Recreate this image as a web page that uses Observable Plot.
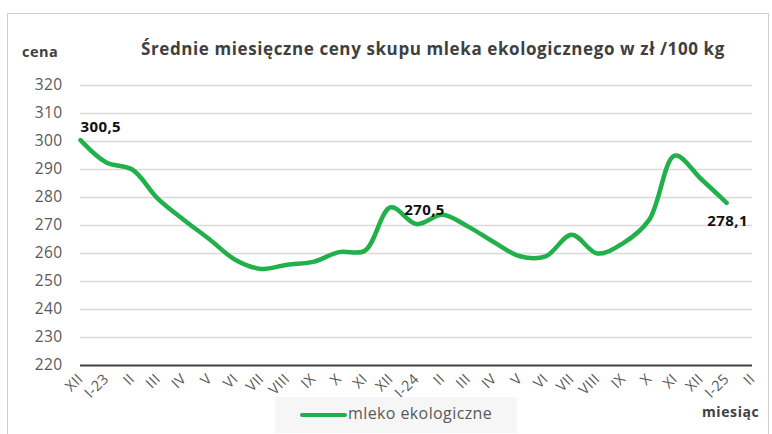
<!DOCTYPE html>
<html><head><meta charset="utf-8">
<script src="https://cdn.jsdelivr.net/npm/d3@7"></script>
<script src="https://cdn.jsdelivr.net/npm/@observablehq/plot@0.6"></script>
<style>
body{margin:0;background:#fff;}
#wrap{position:relative;width:772px;height:434px;font-family:"Open Sans",Lato,sans-serif;overflow:hidden;}
#frame{position:absolute;left:7px;top:13px;width:762px;height:440px;border:1px solid #cfcfcf;box-sizing:border-box;}
#chart{position:absolute;left:0;top:0;}
.t{position:absolute;white-space:nowrap;color:#404040;font-weight:bold;}
#title{left:141px;top:37px;font-size:17px;letter-spacing:0.6px;}
#ylab{left:22px;top:42px;font-size:14.5px;letter-spacing:0.5px;}
#xlab{left:702px;top:402px;font-size:14px;letter-spacing:0.6px;}
#legend{position:absolute;left:275px;top:397px;width:242px;height:36px;background:#f6f6f6;}
#legend .sw{position:absolute;left:25px;top:16px;width:47px;height:4px;background:#21b04b;border-radius:2px;}
#legend .lt{position:absolute;left:73px;top:5px;font-size:16px;color:#595959;letter-spacing:0.4px;}
</style></head>
<body>
<div id="wrap">
  <div id="frame"></div>
  <div id="chart"></div>
  <div class="t" id="title">Średnie miesięczne ceny skupu mleka ekologicznego w zł /100 kg</div>
  <div class="t" id="ylab">cena</div>
  <div class="t" id="xlab">miesiąc</div>
  <div id="legend"><div class="sw"></div><div class="lt">mleko ekologiczne</div></div>
</div>
<script>
const monthLabels = ["XII","I-23","II","III","IV","V","VI","VII","VIII","IX","X","XI","XII","I-24","II","III","IV","V","VI","VII","VIII","IX","X","XI","XII","I-25","II"];
const prices = [300.5,292.5,290,279.5,272,265,257.7,254.5,256,257,260.5,261,276.5,270.5,273.8,269.6,264,259,259,266.7,260,263.7,272,295,286.7,278.1];
const yTicks = [220,230,240,250,260,270,280,290,300,310,320];
const labeled = [{i:0,text:"300,5"},{i:13,text:"270,5"},{i:25,text:"278,1"}];

const data = prices.map((v,i)=>({i, v}));
const lab = labeled.map(d=>({i:d.i, v:prices[d.i], text:d.text}));
const font = "'Open Sans', Lato, sans-serif";

const chart = Plot.plot({
  width: 772, height: 434,
  marginLeft: 80, marginRight: 20, marginTop: 85, marginBottom: 69,
  style: {fontFamily: font, background: "transparent", letterSpacing: "0.4px"},
  x: {domain: [0, monthLabels.length-1]},
  y: {domain: [220, 320]},
  marks: [
    Plot.ruleY(yTicks.filter(t=>t>220), {stroke:"#d9d9d9", strokeWidth:1.5}),
    Plot.ruleY([220], {stroke:"#404040", strokeWidth:2}),
    Plot.axisY(yTicks, {tickSize:0, tickPadding:18, fontSize:15.5, fill:"#595959", label:null}),
    Plot.axisX(d3.range(monthLabels.length), {tickSize:0, tickPadding:11, tickRotate:-45, fontSize:14.5, fill:"#595959", label:null, tickFormat: i=>monthLabels[i]}),
    Plot.line(data, {x:"i", y:"v", curve:"catmull-rom", stroke:"#21b04b", strokeWidth:4.5, strokeLinecap:"round"}),
    Plot.text(lab.filter(d=>d.i===0), {x:"i", y:"v", text:"text", textAnchor:"start", dy:-13, fontSize:15, fontWeight:"bold", fill:"#111"}),
    Plot.text(lab.filter(d=>d.i===13), {x:"i", y:"v", text:"text", dx:8, dy:-14, fontSize:15, fontWeight:"bold", fill:"#111"}),
    Plot.text(lab.filter(d=>d.i===25), {x:"i", y:"v", text:"text", dx:1, dy:18, fontSize:15, fontWeight:"bold", fill:"#111"})
  ]
});
document.getElementById("chart").appendChild(chart);
</script>
</body></html>
